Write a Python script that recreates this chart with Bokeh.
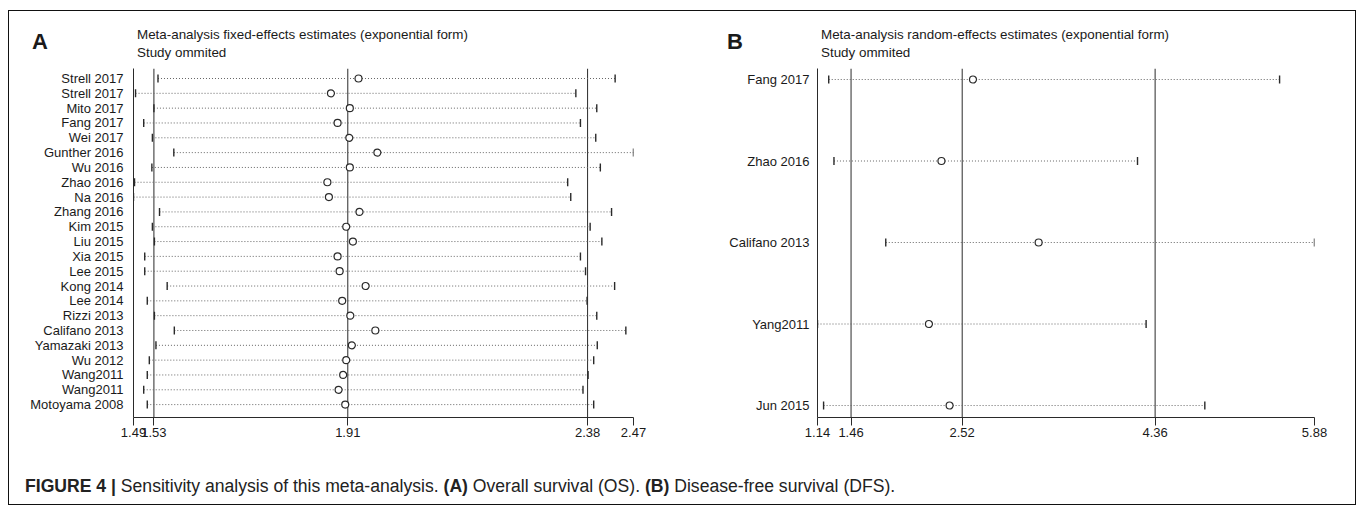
import math
from bokeh.plotting import figure
from bokeh.models import (Range1d, FixedTicker, Span, Div, ColumnDataSource,
                          PrintfTickFormatter, Spacer)
from bokeh.layouts import row, column
from bokeh.embed import file_html
from bokeh.resources import INLINE

# ---------------- data ----------------
names_a = ["Strell 2017", "Strell 2017", "Mito 2017", "Fang 2017", "Wei 2017", "Gunther 2016",
           "Wu 2016", "Zhao 2016", "Na 2016", "Zhang 2016", "Kim 2015", "Liu 2015", "Xia 2015",
           "Lee 2015", "Kong 2014", "Lee 2014", "Rizzi 2013", "Califano 2013", "Yamazaki 2013",
           "Wu 2012", "Wang2011", "Wang2011", "Motoyama 2008"]
est_a = [1.931, 1.877, 1.914, 1.890, 1.913, 1.968, 1.914, 1.870, 1.873, 1.933, 1.907, 1.920,
         1.890, 1.894, 1.945, 1.899, 1.915, 1.964, 1.918, 1.907, 1.901, 1.892, 1.905]
lo_a = [1.538, 1.494, 1.530, 1.510, 1.527, 1.569, 1.526, 1.492, 1.490, 1.541, 1.527, 1.531,
        1.512, 1.512, 1.556, 1.517, 1.531, 1.570, 1.534, 1.521, 1.517, 1.510, 1.517]
hi_a = [2.434, 2.357, 2.398, 2.366, 2.396, 2.470, 2.405, 2.341, 2.347, 2.427, 2.385, 2.408,
        2.366, 2.376, 2.433, 2.379, 2.398, 2.455, 2.399, 2.392, 2.381, 2.371, 2.392]
refs_a = [1.53, 1.91, 2.38]
ticks_a = [1.49, 1.53, 1.91, 2.38, 2.47]

names_b = ["Fang 2017", "Zhao 2016", "Califano 2013", "Yang2011", "Jun 2015"]
lo_b = [1.247, 1.297, 1.791, 1.140, 1.198]
est_b = [2.623, 2.322, 3.249, 2.203, 2.400]
hi_b = [5.547, 4.192, 5.880, 4.274, 4.834]
refs_b = [1.46, 2.52, 4.36]
ticks_b = [1.14, 1.46, 2.52, 4.36, 5.88]

title_a = "Meta-analysis fixed-effects estimates (exponential form)"
title_b = "Meta-analysis random-effects estimates (exponential form)"
subtitle = "Study ommited"
caption_html = ("<b>FIGURE 4 |</b> Sensitivity analysis of this meta-analysis. "
                "<b>(A)</b> Overall survival (OS). <b>(B)</b> Disease-free survival (DFS).")

FONT = "Liberation Sans"
DARK = "#2a2a2a"
HEAD_H = 57
PLOT_H = 380
WA, WB = 671, 675


def panel(names, lo, est, hi, refs, ticks, xr, yr, width, mb_left, mb_right, standoff):
    p = figure(width=width, height=PLOT_H, x_range=Range1d(*xr), y_range=Range1d(*yr),
               output_backend="svg", toolbar_location=None,
               min_border_left=mb_left, min_border_right=mb_right,
               min_border_top=0, min_border_bottom=31)
    p.outline_line_color = None
    p.xgrid.visible = False
    p.ygrid.visible = False

    ys = list(range(len(names)))
    src = ColumnDataSource(dict(y=ys, lo=lo, est=est, hi=hi))
    p.segment(x0="lo", x1="hi", y0="y", y1="y", source=src,
              line_color="#666666", line_width=1, line_dash="1 2")
    for v in refs:
        p.add_layout(Span(location=v, dimension="height", line_color=DARK, line_width=1,
                          level="underlay"))
    p.scatter(x="lo", y="y", source=src, marker="dash", angle=math.pi / 2, size=8,
              line_color=DARK, line_width=1.4)
    p.scatter(x="hi", y="y", source=src, marker="dash", angle=math.pi / 2, size=8,
              line_color=DARK, line_width=1.4)
    p.scatter(x="est", y="y", source=src, marker="circle", size=7,
              line_color=DARK, line_width=1.2, fill_color="white")

    xa = p.xaxis[0]
    xa.ticker = FixedTicker(ticks=ticks)
    xa.formatter = PrintfTickFormatter(format="%.2f")
    xa.major_tick_out = 8
    xa.major_tick_in = 0
    xa.minor_tick_out = 0
    xa.minor_tick_in = 0
    xa.major_label_standoff = 2

    ya = p.yaxis[0]
    ya.ticker = FixedTicker(ticks=ys)
    ya.major_label_overrides = {i: n for i, n in enumerate(names)}
    ya.major_tick_out = 0
    ya.major_tick_in = 0
    ya.minor_tick_out = 0
    ya.minor_tick_in = 0
    ya.major_label_standoff = standoff

    for ax in (xa, ya):
        ax.axis_line_color = DARK
        ax.axis_line_width = 1
        ax.major_tick_line_color = DARK
        ax.major_label_text_font = FONT
        ax.major_label_text_font_size = "13px"
        ax.major_label_text_color = "#1a1a1a"
    return p


def span(text, left, center_y, size, bold=False):
    lh = round(size * 1.2)
    top = center_y - lh / 2
    weight = "bold" if bold else "normal"
    return (f'<span style="position:absolute; left:{left}px; top:{top}px; font-size:{size}px; '
            f'line-height:{lh}px; font-weight:{weight}; white-space:nowrap;">{text}</span>')


head_html = ('<div style="position:relative; width:%dpx; height:%dpx; '
             'font-family:\'Liberation Sans\'; color:#1a1a1a;">' % (WA + WB, HEAD_H)
             + span("A", 23, 31, 22, True)
             + span(title_a, 128, 24, 13.4)
             + span(subtitle, 128, 42, 13.4)
             + span("B", WA + 47, 31, 22, True)
             + span(title_b, WA + 141, 24, 13.4)
             + span(subtitle, WA + 141, 42, 13.4)
             + '</div>')
head = Div(text=head_html, width=WA + WB, height=HEAD_H, margin=0)

pA = panel(names_a, lo_a, est_a, hi_a, refs_a, ticks_a, (1.49, 2.47), (22.87, -0.675),
           WA, 124, 47, 10)
pB = panel(names_b, lo_b, est_b, hi_b, refs_b, ticks_b, (1.14, 5.88), (4.147, -0.135),
           WB, 137, 41, 8)

cap = Div(text=('<div style="padding:28px 0 0 16px; font-family:\'Liberation Sans\'; '
                'font-size:17.6px; line-height:20px; color:#222; white-space:nowrap;">'
                + caption_html + '</div>'),
          width=WA + WB, height=56, margin=0)

inner = column(head, row(pA, pB), cap,
               styles={"border": "1px solid #111", "background": "white"})
layout = column(Spacer(width=10, height=10), row(Spacer(width=8, height=10), inner))

open("out.html", "w").write(file_html(layout, INLINE))
